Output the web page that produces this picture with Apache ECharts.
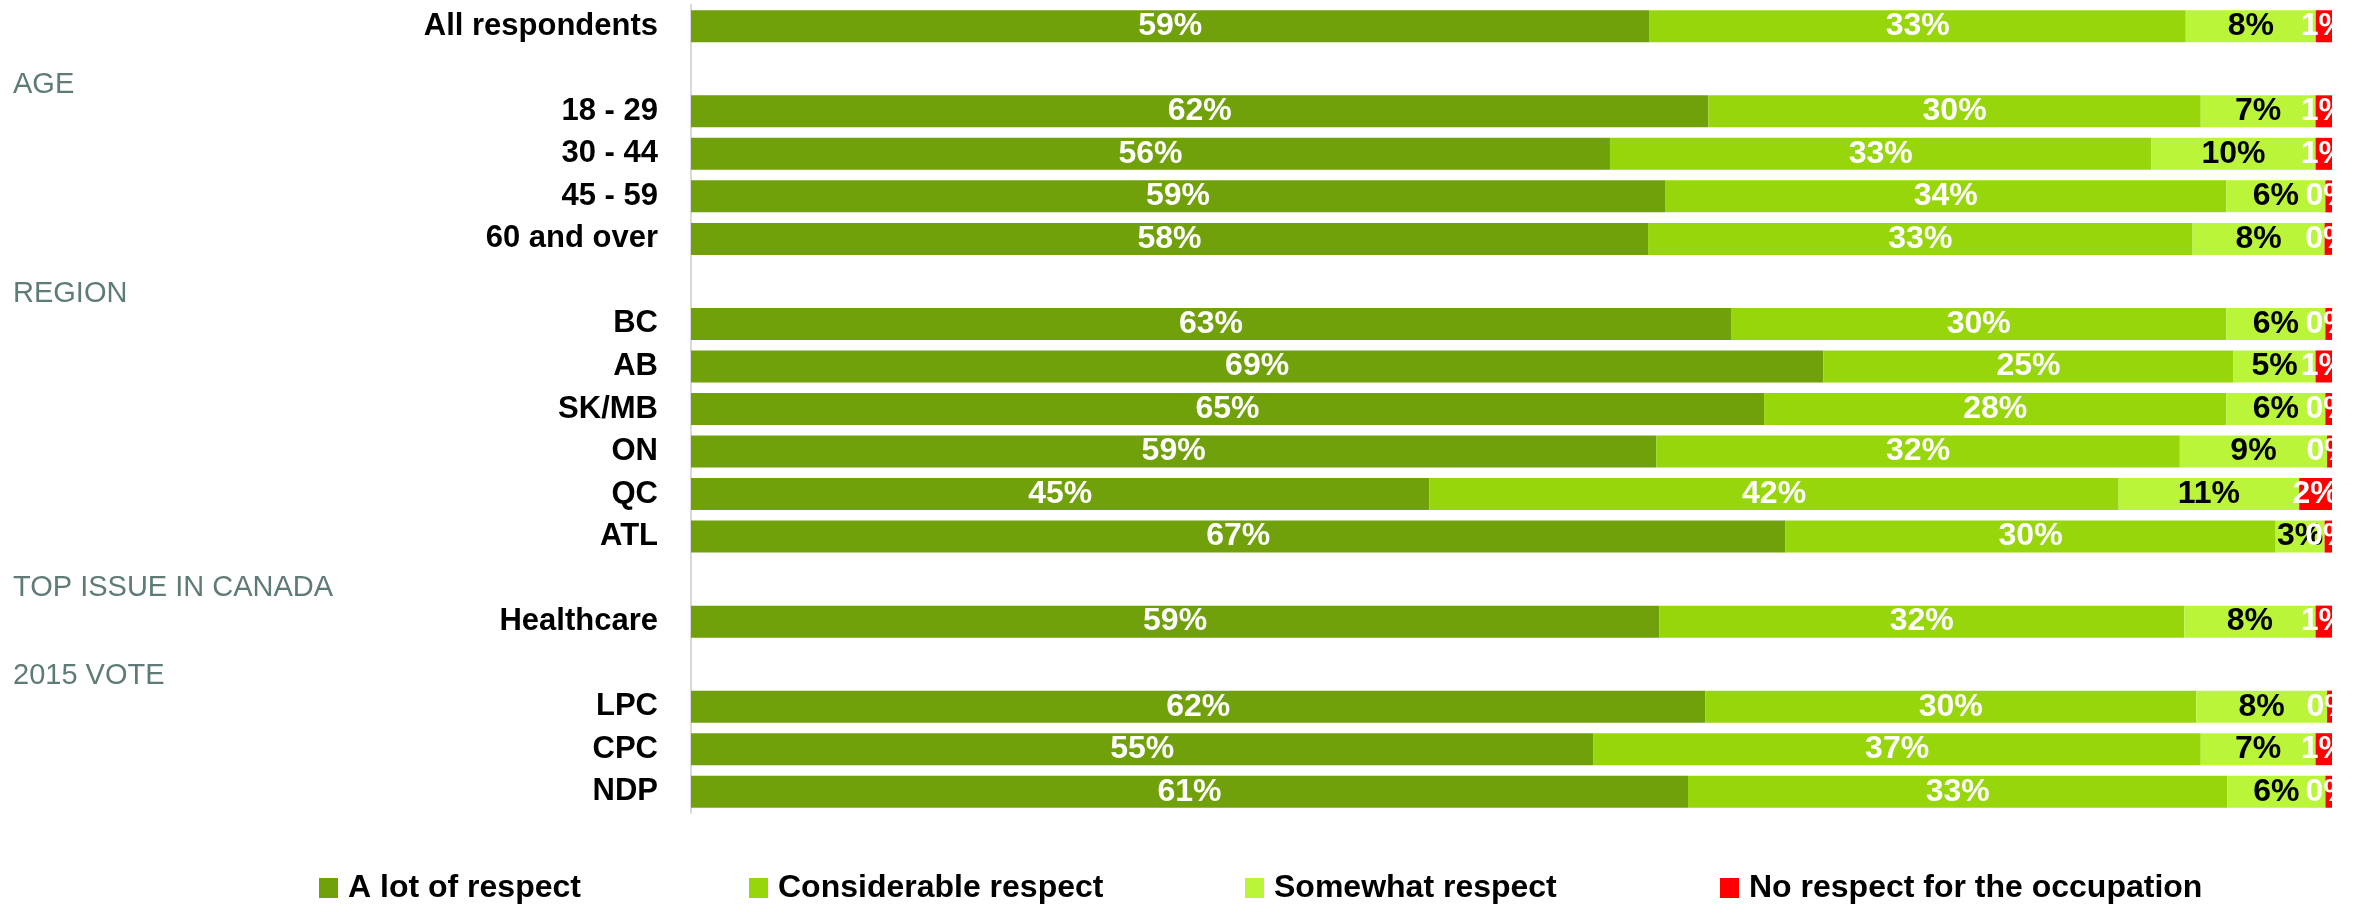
<!DOCTYPE html>
<html><head><meta charset="utf-8">
<script src="https://cdn.jsdelivr.net/npm/echarts@6/dist/echarts.min.js"></script>
<style>html,body{margin:0;padding:0;background:#fff}#c{width:2353px;height:904px}</style>
</head><body><div id="c"></div>
<script>
const categories = ['All respondents','','18 - 29','30 - 44','45 - 59','60 and over','','BC','AB','SK/MB','ON','QC','ATL','','Healthcare','','LPC','CPC','NDP'];
const groupHeaders = ['','AGE','','','','','REGION','','','','','','','TOP ISSUE IN CANADA','','2015 VOTE','','',''];
const seriesNames = ['A lot of respect','Considerable respect','Somewhat respect','No respect for the occupation'];
const aLotOfRespect      = [59,null,62,56,59,58,null,63,69,65,59,45,67,null,59,null,62,55,61];
const considerableRespect= [33,null,30,33,34,33,null,30,25,28,32,42,30,null,32,null,30,37,33];
const somewhatRespect    = [8,null,7,10,6,8,null,6,5,6,9,11,3,null,8,null,8,7,6];
const noRespect          = [1,null,1,1,0.4,0.45,null,0.4,1,0.4,0.3,2,0.45,null,1,null,0.3,1,0.4];

const FONT = '"Liberation Sans", Arial, sans-serif';
const colors = ['#70a00a','#97d60a','#baf53a','#ff0000'];
const labelColors = ['#ffffff','#ffffff','#000000','#ffffff'];
const legendLefts = [319, 749, 1245, 1720];
const headerShift = { 'AGE': 16, 'REGION': 13, 'TOP ISSUE IN CANADA': 9, '2015 VOTE': 12 };
const raw = [aLotOfRespect, considerableRespect, somewhatRespect, noRespect];
const totals = categories.map((_, i) => raw.reduce((s, a) => s + (a[i] || 0), 0));

const series = raw.map((arr, k) => ({
  name: seriesNames[k], type: 'bar', stack: 'total', yAxisIndex: 0, barWidth: 32,
  itemStyle: { color: colors[k] },
  label: {
    show: true, position: 'inside', color: labelColors[k], fontSize: 32, fontWeight: 'bold', fontFamily: FONT,
    formatter: p => arr[p.dataIndex] == null ? '' : Math.round(arr[p.dataIndex]) + '%'
  },
  data: arr.map((v, i) => v == null ? null : v / totals[i] * 100)
}));

const rich = {};
Object.keys(headerShift).forEach((h, j) => {
  rich['h' + j] = { fontSize: 29, color: '#5f7b78', fontFamily: FONT, padding: [headerShift[h] * 2, 0, 0, 0] };
});
const headerKeys = Object.keys(headerShift);

const chart = echarts.init(document.getElementById('c'));
chart.setOption({
  animation: false,
  grid: { left: 691, right: 21, top: 5, bottom: 91, containLabel: false },
  xAxis: { type: 'value', min: 0, max: 100, show: false },
  yAxis: [
    { type: 'category', data: categories, inverse: true, position: 'left',
      axisLine: { show: true, lineStyle: { color: '#d9d9d9', width: 2 } },
      axisTick: { show: false }, splitLine: { show: false },
      axisLabel: { interval: 0, margin: 33, fontSize: 31, fontWeight: 'bold', color: '#000', fontFamily: FONT } },
    { type: 'category', data: groupHeaders, inverse: true, position: 'left',
      axisLine: { show: false }, axisTick: { show: false }, splitLine: { show: false },
      axisLabel: { interval: 0, align: 'left', margin: 678, fontSize: 29, color: '#5f7b78', fontFamily: FONT,
        formatter: v => v ? '{h' + headerKeys.indexOf(v) + '|' + v + '}' : '', rich: rich } }
  ],
  legend: seriesNames.map((n, k) => ({
    data: [n], left: legendLefts[k], top: 872, padding: 0, icon: 'rect', itemWidth: 19, itemHeight: 20,
    selectedMode: false,
    textStyle: { fontSize: 32, fontWeight: 'bold', color: '#000', fontFamily: FONT, padding: [0, 0, 0, 5] }
  })),
  series: series
});
</script></body></html>
